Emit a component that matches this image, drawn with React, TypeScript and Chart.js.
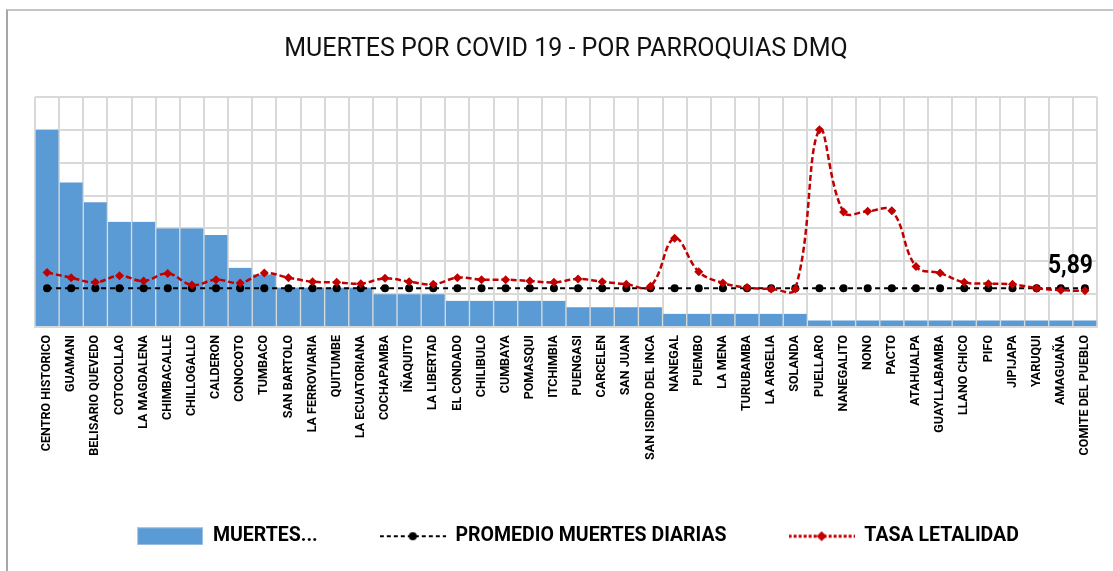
import React, { useEffect, useRef } from "react";
import { Chart, registerables } from "chart.js";

Chart.register(...registerables);

const TITLE = "MUERTES POR COVID 19 - POR PARROQUIAS DMQ";

const parroquias = [
  "CENTRO HISTORICO", "GUAMANI", "BELISARIO QUEVEDO", "COTOCOLLAO", "LA MAGDALENA",
  "CHIMBACALLE", "CHILLOGALLO", "CALDERON", "CONOCOTO", "TUMBACO",
  "SAN BARTOLO", "LA FERROVIARIA", "QUITUMBE", "LA ECUATORIANA", "COCHAPAMBA",
  "IÑAQUITO", "LA LIBERTAD", "EL CONDADO", "CHILIBULO", "CUMBAYA",
  "POMASQUI", "ITCHIMBIA", "PUENGASI", "CARCELEN", "SAN JUAN",
  "SAN ISIDRO DEL INCA", "NANEGAL", "PUEMBO", "LA MENA", "TURUBAMBA",
  "LA ARGELIA", "SOLANDA", "PUELLARO", "NANEGALITO", "NONO",
  "PACTO", "ATAHUALPA", "GUAYLLABAMBA", "LLANO CHICO", "PIFO",
  "JIPIJAPA", "YARUQUI", "AMAGUAÑA", "COMITE DEL PUEBLO",
];

const muertes = [
  30, 22, 19, 16, 16, 15, 15, 14, 9, 8,
  6, 6, 6, 6, 5, 5, 5, 4, 4, 4,
  4, 4, 3, 3, 3, 3, 2, 2, 2, 2,
  2, 2, 1, 1, 1, 1, 1, 1, 1, 1,
  1, 1, 1, 1,
];

const promedioMuertes = [
  5.89, 5.89, 5.89, 5.89, 5.89, 5.89, 5.89, 5.89, 5.89, 5.89,
  5.89, 5.89, 5.89, 5.89, 5.89, 5.89, 5.89, 5.89, 5.89, 5.89,
  5.89, 5.89, 5.89, 5.89, 5.89, 5.89, 5.89, 5.89, 5.89, 5.89,
  5.89, 5.89, 5.89, 5.89, 5.89, 5.89, 5.89, 5.89, 5.89, 5.89,
  5.89, 5.89, 5.89, 5.89,
];

const tasaLetalidad = [
  8.3, 7.5, 6.8, 7.8, 7.0, 8.15, 6.4, 7.2, 6.7, 8.2,
  7.5, 6.9, 6.8, 6.6, 7.4, 6.9, 6.5, 7.5, 7.2, 7.2,
  7.0, 6.8, 7.3, 6.9, 6.5, 6.2, 13.5, 8.4, 6.7, 6.0,
  5.8, 5.8, 30.0, 17.5, 17.6, 17.7, 9.2, 8.2, 6.8, 6.6,
  6.5, 5.9, 5.6, 5.5,
];

const yMin = 0;
const yMax = 35;
const yStep = 5;

const PROMEDIO_TEXT = "5,89";
const LEGEND_LABELS = ["MUERTES...", "PROMEDIO MUERTES DIARIAS", "TASA LETALIDAD"];

const FONT = "'Roboto', 'Liberation Sans', sans-serif";
const BLUE = "#5b9bd5";
const RED = "#c00000";
const GRID = "#d9d9d9";

function makeIcon(kind: string): HTMLCanvasElement {
  const c = document.createElement("canvas");
  c.width = 66;
  c.height = 18;
  const ctx = c.getContext("2d")!;
  if (kind === "bar") {
    ctx.fillStyle = BLUE;
    ctx.fillRect(0, 0, 66, 18);
    ctx.strokeStyle = "#a9c8e8";
    ctx.lineWidth = 1;
    ctx.strokeRect(0.5, 0.5, 65, 17);
  } else if (kind === "avg") {
    ctx.strokeStyle = "#000";
    ctx.lineWidth = 2;
    ctx.setLineDash([4, 3]);
    ctx.beginPath();
    ctx.moveTo(0, 9);
    ctx.lineTo(66, 9);
    ctx.stroke();
    ctx.fillStyle = "#000";
    ctx.beginPath();
    ctx.arc(33, 9, 4, 0, Math.PI * 2);
    ctx.fill();
  } else {
    ctx.strokeStyle = RED;
    ctx.lineWidth = 3;
    ctx.setLineDash([3, 2]);
    ctx.beginPath();
    ctx.moveTo(0, 9);
    ctx.lineTo(66, 9);
    ctx.stroke();
    ctx.fillStyle = RED;
    ctx.beginPath();
    ctx.moveTo(33, 4);
    ctx.lineTo(38, 9);
    ctx.lineTo(33, 14);
    ctx.lineTo(28, 9);
    ctx.closePath();
    ctx.fill();
  }
  return c;
}

const promedioLabelPlugin = {
  id: "promedioLabel",
  afterLayout(chart: any) {
    // shift the legend row slightly to the right, as in the original
    if (chart.legend) {
      chart.legend.left += 12;
      chart.legend.right += 12;
    }
  },
  afterDatasetsDraw(chart: any) {
    const meta = chart.getDatasetMeta(1);
    const pt = meta.data[meta.data.length - 1];
    if (!pt) return;
    const ctx = chart.ctx;
    ctx.save();
    ctx.translate(pt.x + 8, pt.y - 15);
    ctx.scale(0.88, 1);
    ctx.font = `bold 26px ${FONT}`;
    ctx.fillStyle = "#000";
    ctx.textAlign = "right";
    ctx.textBaseline = "alphabetic";
    ctx.fillText(PROMEDIO_TEXT, 0, 0);
    ctx.restore();
  },
};

export default function App() {
  const canvasRef = useRef<HTMLCanvasElement | null>(null);

  useEffect(() => {
    if (!canvasRef.current) return;
    const icons = [makeIcon("bar"), makeIcon("avg"), makeIcon("rate")];
    const chart = new Chart(canvasRef.current, {
      type: "bar",
      data: {
        labels: parroquias,
        datasets: [
          {
            type: "bar",
            label: LEGEND_LABELS[0],
            data: muertes,
            backgroundColor: BLUE,
            borderColor: GRID,
            borderWidth: { left: 1, right: 1, top: 0, bottom: 0 },
            barPercentage: 1,
            categoryPercentage: 1,
            order: 3,
          },
          {
            type: "line",
            label: LEGEND_LABELS[1],
            data: promedioMuertes,
            borderColor: "#000",
            backgroundColor: "#000",
            borderWidth: 2,
            borderDash: [5, 4],
            pointStyle: "circle",
            pointRadius: 4,
            pointBackgroundColor: "#000",
            pointBorderWidth: 0,
            fill: false,
            order: 2,
          },
          {
            type: "line",
            label: LEGEND_LABELS[2],
            data: tasaLetalidad,
            borderColor: RED,
            backgroundColor: RED,
            borderWidth: 2.5,
            borderDash: [6, 3],
            tension: 0.4,
            pointStyle: "rectRot",
            pointRadius: 4.5,
            pointBackgroundColor: RED,
            pointBorderWidth: 0,
            fill: false,
            order: 1,
          },
        ],
      },
      options: {
        responsive: false,
        animation: false,
        devicePixelRatio: 1,
        layout: { padding: { left: 35, right: 16, top: 0, bottom: 15 } },
        plugins: {
          title: {
            display: true,
            text: TITLE,
            color: "#111",
            font: { family: FONT, size: 25, weight: "normal" },
            padding: { top: 35, bottom: 32 },
          },
          legend: {
            display: true,
            position: "bottom",
            labels: {
              usePointStyle: true,
              pointStyleWidth: 66,
              padding: 62,
              color: "#000",
              font: { family: FONT, size: 19.5, weight: "bold" },
              generateLabels: () =>
                LEGEND_LABELS.map((text, i) => ({
                  text,
                  pointStyle: icons[i],
                  fillStyle: "transparent",
                  strokeStyle: "transparent",
                  lineWidth: 0,
                  hidden: false,
                  datasetIndex: i,
                  rotation: 0,
                })),
            },
          },
          tooltip: { enabled: false },
        },
        scales: {
          x: {
            grid: { color: GRID, lineWidth: 2, drawTicks: false, offset: true },
            border: { color: GRID, width: 2 },
            ticks: {
              autoSkip: false,
              minRotation: 90,
              maxRotation: 90,
              padding: 8,
              color: "#000",
              font: { family: FONT, size: 12.5, weight: "bold" },
            },
            afterFit: (scale: any) => {
              scale.height = 137.5;
            },
          },
          y: {
            min: yMin,
            max: yMax,
            ticks: { display: false, stepSize: yStep },
            grid: { color: GRID, lineWidth: 2, drawTicks: false },
            border: { display: false },
          },
        },
      },
      plugins: [promedioLabelPlugin],
    });
    return () => chart.destroy();
  }, []);

  return (
    <div style={{ position: "fixed", left: 0, top: 0, width: 1113, height: 571, overflow: "hidden", background: "#fff" }}>
      <div
        style={{
          position: "absolute",
          left: 6,
          top: 9,
          width: 1200,
          height: 700,
          borderLeft: "2px solid #a6a6a6",
          borderTop: "2px solid #c4c4c4",
        }}
      />
      <canvas
        ref={canvasRef}
        width={1113}
        height={571}
        style={{ position: "absolute", left: 0, top: 0, width: 1113, height: 571 }}
      />
    </div>
  );
}
